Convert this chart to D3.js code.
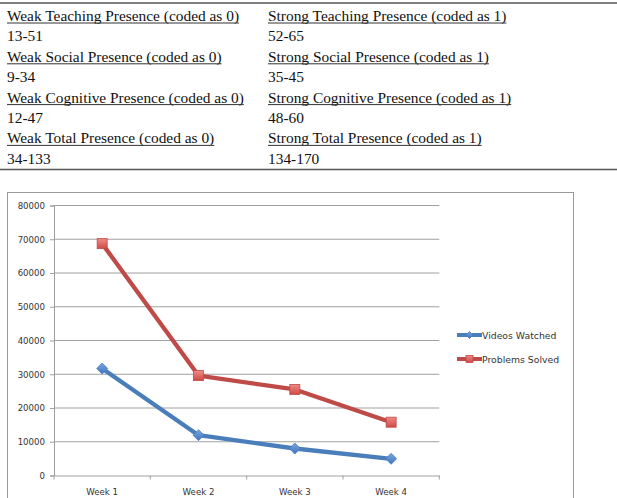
<!DOCTYPE html>
<html>
<head>
<meta charset="utf-8">
<script src="https://cdn.jsdelivr.net/npm/d3@7"></script>
<style>
  body { margin: 0; background: #fff; }
  svg { display: block; }
  .cell { font-family: "Liberation Serif", "Times New Roman", serif; font-size: 15.4px; fill: #111; }
  .tick text, .lbl { font-family: "DejaVu Sans", Verdana, sans-serif; font-size: 8.6px; fill: #333; }
  .lbl { font-size: 9.3px; }
</style>
</head>
<body>
<script>
// table text (top part of the figure)
var weakLabels = ["Weak Teaching Presence (coded as 0)", "Weak Social Presence (coded as 0)",
  "Weak Cognitive Presence (coded as 0)", "Weak Total Presence (coded as 0)"];
var weakRanges = ["13-51", "9-34", "12-47", "34-133"];
var strongLabels = ["Strong Teaching Presence (coded as 1)", "Strong Social Presence (coded as 1)",
  "Strong Cognitive Presence (coded as 1)", "Strong Total Presence (coded as 1)"];
var strongRanges = ["52-65", "35-45", "48-60", "134-170"];

// chart data
var weeks = ["Week 1", "Week 2", "Week 3", "Week 4"];
var videosWatched = [31700, 11950, 8000, 4950];
var problemsSolved = [68700, 29600, 25500, 15800];
var yTicks = [0, 10000, 20000, 30000, 40000, 50000, 60000, 70000, 80000];
var seriesNames = ["Videos Watched", "Problems Solved"];

var svgWidth = 617;
var svgHeight = 498;

var svg = d3.select("body").append("svg")
  .attr("width", svgWidth)
  .attr("height", svgHeight);

// ---- table ----
var rowH = 20.4;
var firstBase = 21;

svg.append("line").attr("x1", 0).attr("x2", svgWidth).attr("y1", 3).attr("y2", 3)
  .attr("stroke", "#555").attr("stroke-width", 1.6);
svg.append("line").attr("x1", 0).attr("x2", svgWidth).attr("y1", 169.5).attr("y2", 169.5)
  .attr("stroke", "#555").attr("stroke-width", 1.6);

function addColumn(x, labels, ranges) {
  labels.forEach(function(lab, i) {
    var yLab = firstBase + rowH * 2 * i;
    var t = svg.append("text").attr("class", "cell")
      .attr("x", x).attr("y", yLab).text(lab);
    var w = t.node().getComputedTextLength();
    svg.append("line")
      .attr("x1", x).attr("x2", x + w)
      .attr("y1", yLab + 2).attr("y2", yLab + 2)
      .attr("stroke", "#333").attr("stroke-width", 1);
    svg.append("text").attr("class", "cell")
      .attr("x", x).attr("y", yLab + rowH).text(ranges[i]);
  });
}
addColumn(7, weakLabels, weakRanges);
addColumn(268, strongLabels, strongRanges);

// ---- chart ----
svg.append("rect")
  .attr("x", 7.5).attr("y", 192.5)
  .attr("width", 566).attr("height", 320)
  .attr("fill", "#fff").attr("stroke", "#999").attr("stroke-width", 1);

var plot = { left: 54, right: 439.3, top: 205.5, bottom: 475.5 };

var x = d3.scaleBand().domain(weeks).range([plot.left, plot.right]);
var y = d3.scaleLinear().domain([0, 80000]).range([plot.bottom, plot.top]);

// gridlines
svg.append("g").selectAll("line")
  .data(yTicks.slice(1))
  .enter().append("line")
  .attr("x1", plot.left).attr("x2", plot.right)
  .attr("y1", d => y(d)).attr("y2", d => y(d))
  .attr("stroke", "#a0a0a0").attr("stroke-width", 1);

var leftAxis = d3.axisLeft(y).tickValues(yTicks).tickSize(4).tickPadding(5).tickFormat(d3.format("d"));
var gy = svg.append("g").attr("transform", `translate(${plot.left},0)`).call(leftAxis);
gy.select(".domain").attr("stroke", "#a0a0a0");
gy.selectAll(".tick line").attr("stroke", "#a0a0a0");

var bottomAxis = d3.axisBottom(x).tickSize(0).tickPadding(13);
var gx = svg.append("g").attr("transform", `translate(0,${plot.bottom})`).call(bottomAxis);
gx.select(".domain").attr("stroke", "#a0a0a0");
// category boundary ticks
var bounds = weeks.map(d => x(d)).concat([plot.right]);
gx.selectAll(".bnd").data(bounds).enter().append("line")
  .attr("x1", d => d).attr("x2", d => d).attr("y1", 0).attr("y2", 4)
  .attr("stroke", "#a0a0a0");

// gradients for markers
var defs = svg.append("defs");
var gb = defs.append("linearGradient").attr("id", "gBlue").attr("x1", 0).attr("y1", 0).attr("x2", 0).attr("y2", 1);
gb.append("stop").attr("offset", "0%").attr("stop-color", "#7aa6e0");
gb.append("stop").attr("offset", "100%").attr("stop-color", "#3f74bd");
var gr = defs.append("linearGradient").attr("id", "gRed").attr("x1", 0).attr("y1", 0).attr("x2", 0).attr("y2", 1);
gr.append("stop").attr("offset", "0%").attr("stop-color", "#f08a86");
gr.append("stop").attr("offset", "100%").attr("stop-color", "#cf4a46");

var series = [
  { name: seriesNames[0], values: videosWatched, color: "#4a7ebb", fill: "url(#gBlue)", marker: "diamond" },
  { name: seriesNames[1], values: problemsSolved, color: "#be4b48", fill: "url(#gRed)", marker: "square" }
];

var line = d3.line()
  .x((d, i) => x(weeks[i]) + x.bandwidth() / 2)
  .y(d => y(d));

function marker(g, type, size, fill, stroke) {
  if (type === "diamond") {
    var h = size / 2;
    g.append("path").attr("d", `M0,${-h}L${h},0L0,${h}L${-h},0Z`)
      .attr("fill", fill).attr("stroke", stroke).attr("stroke-width", 0.8);
  } else {
    g.append("rect").attr("x", -size / 2).attr("y", -size / 2)
      .attr("width", size).attr("height", size)
      .attr("fill", fill).attr("stroke", stroke).attr("stroke-width", 0.8);
  }
}

series.forEach(function(s) {
  svg.append("path")
    .datum(s.values)
    .attr("fill", "none")
    .attr("stroke", s.color)
    .attr("stroke-width", 4.3)
    .attr("stroke-linejoin", "round")
    .attr("d", line);

  s.values.forEach(function(v, i) {
    var g = svg.append("g")
      .attr("transform", `translate(${x(weeks[i]) + x.bandwidth() / 2},${y(v)})`);
    marker(g, s.marker, s.marker === "diamond" ? 11 : 10, s.fill, s.color);
  });
});

// legend
var legend = svg.append("g").attr("transform", "translate(457,335)");
series.forEach(function(s, i) {
  var row = legend.append("g").attr("transform", `translate(0,${i * 24})`);
  row.append("line").attr("x1", 0).attr("x2", 25).attr("y1", 0).attr("y2", 0)
    .attr("stroke", s.color).attr("stroke-width", 4);
  var m = row.append("g").attr("transform", "translate(12.5,0)");
  marker(m, s.marker, 7, s.fill, s.color);
  row.append("text").attr("class", "lbl")
    .attr("x", 25).attr("y", 3.5).text(s.name);
});
</script>
</body>
</html>
